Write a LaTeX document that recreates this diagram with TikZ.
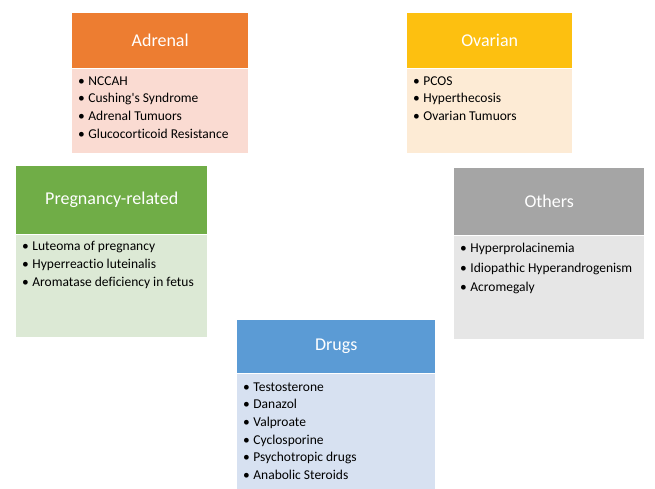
\documentclass[tikz,border=0pt]{standalone}
\usepackage{fontspec}
\setmainfont{Carlito}[Ligatures={TeX,NoCommon}]
\usetikzlibrary{positioning}
\definecolor{adrhead}{HTML}{ED7D31}
\definecolor{adrbody}{HTML}{FADBD2}
\definecolor{ovahead}{HTML}{FDC010}
\definecolor{ovabody}{HTML}{FDEBD5}
\definecolor{preghead}{HTML}{70AD47}
\definecolor{pregbody}{HTML}{DCE9D5}
\definecolor{othhead}{HTML}{A5A5A5}
\definecolor{othbody}{HTML}{E6E6E6}
\definecolor{drghead}{HTML}{5B9BD5}
\definecolor{drgbody}{HTML}{D7E1F1}
\tikzset{
  headbox/.style={anchor=north west, inner sep=0pt, text=white, font=\fontsize{18}{21}\selectfont},
  bodybox/.style={inner sep=0pt, anchor=north},
  itemlist/.style={anchor=north west, inner xsep=6pt, inner ysep=8pt, align=left,
    font=\fontsize{13.5}{17.6}\selectfont}
}
\newcommand{\bul}{\textbullet\hspace{3.5pt}}

\begin{document}
\begin{tikzpicture}[x=1pt,y=-1pt]
\useasboundingbox[fill=white] (0,0) rectangle (655,489);

% Adrenal
\node[headbox, fill=adrhead, minimum width=176, minimum height=55] (adrH) at (72,13) {Adrenal};
\node[bodybox, fill=adrbody, minimum width=176, minimum height=84, below=0pt of adrH] (adrB) {};
\node[itemlist] (adrL) at (adrB.north west) {\bul NCCAH\\ \bul Cushing\textquotesingle s Syndrome\\ \bul Adrenal Tumuors\\ \bul Glucocorticoid Resistance};

% Ovarian
\node[headbox, fill=ovahead, minimum width=165, minimum height=55] (ovaH) at (407,13) {Ovarian};
\node[bodybox, fill=ovabody, minimum width=165, minimum height=84, below=0pt of ovaH] (ovaB) {};
\node[itemlist] (ovaL) at (ovaB.north west) {\bul PCOS\\ \bul Hyperthecosis\\ \bul Ovarian Tumuors};

% Pregnancy-related
\node[headbox, fill=preghead, minimum width=191, minimum height=68] (pregH) at (16,166) {Pregnancy-related};
\node[bodybox, fill=pregbody, minimum width=191, minimum height=102, below=0pt of pregH] (pregB) {};
\node[itemlist, inner ysep=7pt] (pregL) at (pregB.north west) {\bul Luteoma of pregnancy\\ \bul Hyperreactio luteinalis\\ \bul Aromatase deficiency in fetus};

% Others
\node[headbox, fill=othhead, minimum width=190, minimum height=67] (othH) at (454,168) {Others};
\node[bodybox, fill=othbody, minimum width=190, minimum height=103, below=0pt of othH] (othB) {};
\node[itemlist, font=\fontsize{13.5}{19.5}\selectfont] (othL) at (othB.north west) {\bul Hyperprolacinemia\\ \bul Idiopathic Hyperandrogenism\\ \bul Acromegaly};

% Drugs
\node[headbox, fill=drghead, minimum width=198, minimum height=53] (drgH) at (237,320) {Drugs};
\node[bodybox, fill=drgbody, minimum width=198, minimum height=115, below=0pt of drgH] (drgB) {};
\node[itemlist, inner ysep=9pt] (drgL) at (drgB.north west) {\bul Testosterone\\ \bul Danazol\\ \bul Valproate\\ \bul Cyclosporine\\ \bul Psychotropic drugs\\ \bul Anabolic Steroids};
\end{tikzpicture}
\end{document}
